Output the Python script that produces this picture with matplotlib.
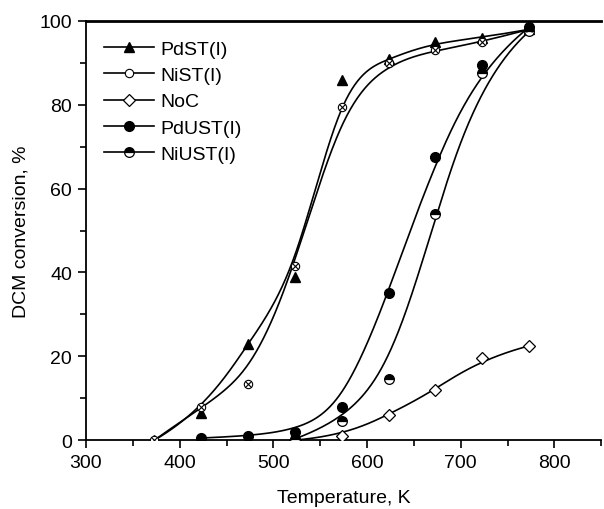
import numpy as np
import matplotlib
matplotlib.use("Agg")
import matplotlib.pyplot as plt
from matplotlib.ticker import MultipleLocator

plt.rcParams['font.family'] = ['Liberation Sans', 'DejaVu Sans']

T = [373, 423, 473, 523, 573, 623, 673, 723, 773]
pdst = [0, 6.5, 23, 39, 86, 91, 95, 96, 98]
nist = [0, 8, 13.5, 41.5, 79.5, 90, 93, 95, 98]
T_noc = [523, 573, 623, 673, 723, 773]
noc = [0, 1, 6, 12, 19.5, 22.5]
T_pdust = [423, 473, 523, 573, 623, 673, 723, 773]
pdust = [0.5, 1, 2, 8, 35, 67.5, 89.5, 98.5]
T_niust = [523, 573, 623, 673, 723, 773]
niust = [0.3, 4.5, 14.5, 54, 87.5, 97.5]


def bspline_curve(px, py, num=400, k=3):
    """Clamped uniform cubic B-spline using the data points as control points."""
    P = np.column_stack([px, py]).astype(float)
    n = len(P)
    t = np.concatenate([[0] * k, np.arange(n - k + 1), [n - k] * k]).astype(float)
    u = np.linspace(0, n - k, num)
    u[-1] -= 1e-9
    N = np.array([((t[i] <= u) & (u < t[i + 1])).astype(float) for i in range(len(t) - 1)])
    for d in range(1, k + 1):
        newN = []
        for i in range(len(t) - 1 - d):
            a = np.zeros_like(u)
            den1 = t[i + d] - t[i]
            if den1 > 0:
                a += (u - t[i]) / den1 * N[i]
            den2 = t[i + d + 1] - t[i + 1]
            if den2 > 0:
                a += (t[i + d + 1] - u) / den2 * N[i + 1]
            newN.append(a)
        N = np.array(newN)
    C = N.T @ P
    return C[:, 0], C[:, 1]


fig = plt.figure(figsize=(6.04, 5.10), dpi=100)
ax = fig.add_axes([0.1424, 0.135, 0.853, 0.822])

series = [
    ("PdST(I)", T, pdst, dict(marker='^', mfc='black', mec='black', ms=7.5)),
    ("NiST(I)", T, nist, dict(marker='o', mfc='white', mec='black', ms=6, mew=0.8)),
    ("NoC", T_noc, noc, dict(marker='D', mfc='white', mec='black', ms=6.5, mew=0.9)),
    ("PdUST(I)", T_pdust, pdust, dict(marker='o', mfc='black', mec='black', ms=7)),
    ("NiUST(I)", T_niust, niust, dict(marker='o', mfc='black', mec='black', ms=7,
                                       fillstyle='top', markerfacecoloralt='white', mew=0.9)),
]

handles = []
for name, x, y, st in series:
    cx, cy = bspline_curve(x, y)
    ax.plot(cx, cy, color='black', lw=1.2, zorder=2)
    ax.plot(x, y, ls='none', zorder=3, **st)
    if name == "NiST(I)":
        ax.plot(x, y, ls='none', marker='x', color='black', ms=4.5, mew=0.8, zorder=4)
    h, = ax.plot([], [], color='black', lw=1.2, **st)
    handles.append(h)

leg = ax.legend(handles, [s[0] for s in series], loc='upper left',
                bbox_to_anchor=(0.0, 0.995), frameon=False, fontsize=14,
                handlelength=2.6, handletextpad=0.3, labelspacing=0.44,
                borderaxespad=0.6, borderpad=0.3)

ax.set_xlim(300, 850)
ax.set_ylim(0, 100)
ax.xaxis.set_major_locator(MultipleLocator(100))
ax.xaxis.set_minor_locator(MultipleLocator(50))
ax.yaxis.set_major_locator(MultipleLocator(20))
ax.yaxis.set_minor_locator(MultipleLocator(10))
ax.tick_params(which='both', direction='out', labelsize=14, width=1.2)
ax.tick_params(which='major', length=6, pad=4)
ax.tick_params(which='minor', length=4)
ax.spines['right'].set_visible(False)
for s in ['left', 'bottom', 'top']:
    ax.spines[s].set_linewidth(1.3)
ax.spines['top'].set_linewidth(2)

ax.set_xlabel("Temperature, K", fontsize=14, labelpad=13)
ax.set_ylabel("DCM conversion, %", fontsize=14, labelpad=7)

fig.savefig("out.png", dpi=100)
